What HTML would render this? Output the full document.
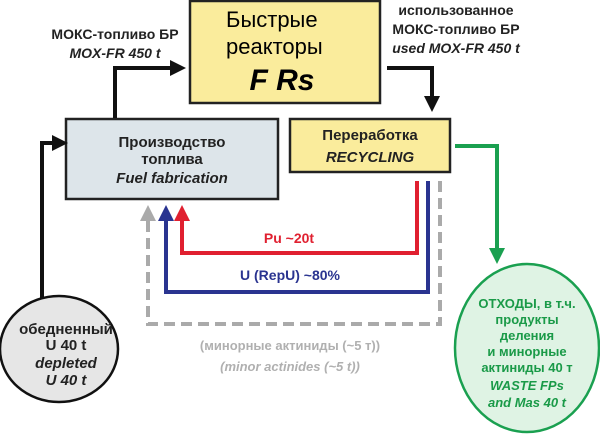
<!DOCTYPE html>
<html><head><meta charset="utf-8"><style>
html,body{margin:0;padding:0;background:#fff;width:600px;height:435px;overflow:hidden}
svg text{font-family:"Liberation Sans","DejaVu Sans",sans-serif;font-weight:bold}
</style></head><body>
<svg width="600" height="435" viewBox="0 0 600 435" xmlns="http://www.w3.org/2000/svg">
<defs>
<marker id="ak" markerWidth="4" markerHeight="4" refX="2" refY="2" orient="auto" markerUnits="strokeWidth"><path d="M0,0 L4,2 L0,4z" fill="#111"/></marker>
<marker id="ar" markerWidth="4" markerHeight="4" refX="2" refY="2" orient="auto" markerUnits="strokeWidth"><path d="M0,0 L4,2 L0,4z" fill="#e02030"/></marker>
<marker id="ab" markerWidth="4" markerHeight="4" refX="2" refY="2" orient="auto" markerUnits="strokeWidth"><path d="M0,0 L4,2 L0,4z" fill="#2a3490"/></marker>
<marker id="ag" markerWidth="4" markerHeight="4" refX="2" refY="2" orient="auto" markerUnits="strokeWidth"><path d="M0,0 L4,2 L0,4z" fill="#aaa"/></marker>
<marker id="agr" markerWidth="4" markerHeight="4" refX="2" refY="2" orient="auto" markerUnits="strokeWidth"><path d="M0,0 L4,2 L0,4z" fill="#1aa050"/></marker>
</defs>
<rect x="190" y="1" width="190" height="102" fill="#faec9c" stroke="#222" stroke-width="2.5"/>
<rect x="66" y="119" width="212" height="80" fill="#dde5ea" stroke="#222" stroke-width="2.5"/>
<rect x="290" y="119" width="160" height="53" fill="#faec9c" stroke="#222" stroke-width="2.5"/>
<polyline points="115,118 115,68 178,68" fill="none" stroke="#111" stroke-width="4" marker-end="url(#ak)"/>
<polyline points="387,68 432,68 432,104" fill="none" stroke="#111" stroke-width="4" marker-end="url(#ak)"/>
<polyline points="42,300 42,143 60,143" fill="none" stroke="#111" stroke-width="4" marker-end="url(#ak)"/>
<polyline points="455,146 497,146 497,256" fill="none" stroke="#1aa050" stroke-width="4" marker-end="url(#agr)"/>
<polyline points="417,181 417,253 182,253 182,213" fill="none" stroke="#e02030" stroke-width="4" marker-end="url(#ar)"/>
<polyline points="428,181 428,292 166,292 166,213" fill="none" stroke="#2a3490" stroke-width="4" marker-end="url(#ab)"/>
<polyline points="440,181 440,324 148,324 148,213" fill="none" stroke="#aaa" stroke-width="4" stroke-dasharray="11,6" marker-end="url(#ag)"/>
<ellipse cx="59" cy="349" rx="59" ry="53" fill="#e6e6e6" stroke="#111" stroke-width="2.5"/>
<ellipse cx="527" cy="348" rx="72" ry="84" fill="#dff3e4" stroke="#1aa050" stroke-width="2.5"/>
<text x="115" y="39" font-size="14" text-anchor="middle" fill="#222">МОКС-топливо БР</text>
<text x="115" y="58" font-size="14" text-anchor="middle" fill="#222" font-style="italic">MOX-FR 450 t</text>
<text x="456" y="15" font-size="14" text-anchor="middle" fill="#222">использованное</text>
<text x="456" y="34" font-size="14" text-anchor="middle" fill="#222">МОКС-топливо БР</text>
<text x="456" y="53" font-size="14" text-anchor="middle" fill="#222" font-style="italic">used MOX-FR 450 t</text>
<text x="226" y="27" font-size="22" fill="#000" style="font-weight:normal">Быстрые</text>
<text x="226" y="54" font-size="22" fill="#000" style="font-weight:normal">реакторы</text>
<text x="282" y="90" font-size="30" text-anchor="middle" fill="#000" font-style="italic">F Rs</text>
<text x="172" y="147" font-size="15" text-anchor="middle" fill="#222">Производство</text>
<text x="172" y="164" font-size="15" text-anchor="middle" fill="#222">топлива</text>
<text x="172" y="183" font-size="15" text-anchor="middle" fill="#222" font-style="italic">Fuel fabrication</text>
<text x="370" y="140" font-size="15" text-anchor="middle" fill="#222">Переработка</text>
<text x="370" y="162" font-size="15" text-anchor="middle" fill="#222" font-style="italic">RECYCLING</text>
<text x="289" y="243" font-size="14" text-anchor="middle" fill="#e02030">Pu ~20t</text>
<text x="290" y="280" font-size="14" text-anchor="middle" fill="#2a3490">U (RepU)  ~80%</text>
<text x="290" y="350" font-size="13" text-anchor="middle" fill="#b0b0b0">(минорные актиниды (~5 т))</text>
<text x="290" y="371" font-size="13" text-anchor="middle" fill="#b0b0b0" font-style="italic">(minor actinides (~5 t))</text>
<text x="66" y="334" font-size="15" text-anchor="middle" fill="#222">обедненный</text>
<text x="66" y="350" font-size="15" text-anchor="middle" fill="#222">U 40 t</text>
<text x="66" y="368" font-size="15" text-anchor="middle" font-style="italic" fill="#222">depleted</text>
<text x="66" y="385" font-size="15" text-anchor="middle" font-style="italic" fill="#222">U 40 t</text>
<g font-size="13" text-anchor="middle" fill="#1a9a48">
<text x="527" y="308">ОТХОДЫ, в т.ч.</text>
<text x="527" y="324">продукты</text>
<text x="527" y="340">деления</text>
<text x="527" y="356">и минорные</text>
<text x="527" y="372">актиниды 40 т</text>
<text x="527" y="390" font-style="italic">WASTE FPs</text>
<text x="527" y="407" font-style="italic">and Mas 40 t</text>
</g>
</svg>
</body></html>
